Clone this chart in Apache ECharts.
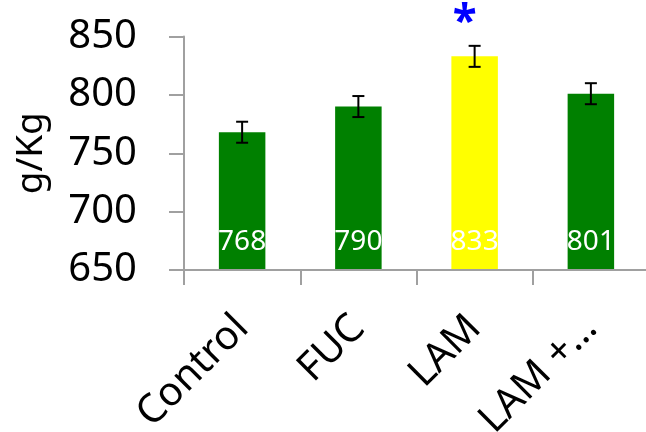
<!DOCTYPE html>
<html><head><meta charset="utf-8">
<script src="https://cdn.jsdelivr.net/npm/echarts@6/dist/echarts.min.js"></script>
<style>html,body{margin:0;padding:0;background:#fff}#c{width:646px;height:432px}</style>
</head><body><div id="c"></div>
<script>
const categories = ['Control', 'FUC', 'LAM', 'LAM +…'];
const values = [768, 790, 833, 801];
const errors = [9, 9, 9, 9];
const barColors = ['#008000', '#008000', '#ffff00', '#008000'];
const yTicks = [650, 700, 750, 800, 850];
const yName = 'g/Kg';
const significance = ['', '', '*', ''];

const FONT = 'Noto Sans';
const chart = echarts.init(document.getElementById('c'), null, {renderer: 'canvas'});
const option = {
  animation: false,
  grid: {left: 184, top: 36.5, bottom: 162, right: -3, containLabel: false, outerBoundsMode: 'none'},
  xAxis: {
    type: 'category', data: categories, boundaryGap: true,
    axisLine: {lineStyle: {color: '#a0a0a0', width: 2}},
    axisTick: {show: true, length: 15, lineStyle: {color: '#a0a0a0', width: 2}, alignWithLabel: false},
    axisLabel: {rotate: 45, fontSize: 40, color: '#000', fontFamily: FONT, margin: 52, interval: 0},
    z: 3
  },
  yAxis: {
    type: 'value', min: yTicks[0], max: yTicks[yTicks.length - 1], interval: 50,
    name: yName, nameLocation: 'middle', nameRotate: 90, nameGap: 134,
    nameTextStyle: {fontSize: 37, color: '#000', fontFamily: FONT},
    axisLine: {show: true, lineStyle: {color: '#a0a0a0', width: 2}},
    axisTick: {show: true, inside: false, length: 15, lineStyle: {color: '#a0a0a0', width: 2}},
    axisLabel: {fontSize: 40, color: '#000', fontFamily: FONT, margin: 47},
    splitLine: {show: false}
  },
  series: [
    {
      type: 'bar', barWidth: '40%',
      data: values.map((v, i) => ({value: v, itemStyle: {color: barColors[i]}})),
      label: {show: true, position: 'insideBottom', distance: 14, color: '#fff', fontSize: 28, fontFamily: FONT},
      markPoint: {
        symbol: 'circle', symbolSize: 1, itemStyle: {color: 'rgba(0,0,0,0)'},
        data: significance.map((s, i) => s ? {coord: [i, values[i] + errors[i]], name: s} : null).filter(Boolean),
        label: {show: true, position: 'inside', formatter: p => p.name, color: '#0000ff', fontSize: 44, fontWeight: 'bold', fontFamily: FONT, offset: [-10, -22]}
      }
    },
    {
      type: 'custom',
      data: values.map((v, i) => [i, v - errors[i], v + errors[i]]),
      renderItem: function (params, api) {
        const lo = api.coord([api.value(0), api.value(1)]);
        const hi = api.coord([api.value(0), api.value(2)]);
        const hw = 6;
        const st = {stroke: '#000', lineWidth: 2};
        return {type: 'group', children: [
          {type: 'line', shape: {x1: hi[0], y1: hi[1], x2: lo[0], y2: lo[1]}, style: st},
          {type: 'line', shape: {x1: hi[0] - hw, y1: hi[1], x2: hi[0] + hw, y2: hi[1]}, style: st},
          {type: 'line', shape: {x1: lo[0] - hw, y1: lo[1], x2: lo[0] + hw, y2: lo[1]}, style: st}
        ]};
      },
      z: 10
    }
  ]
};
chart.setOption(option);
</script></body></html>
